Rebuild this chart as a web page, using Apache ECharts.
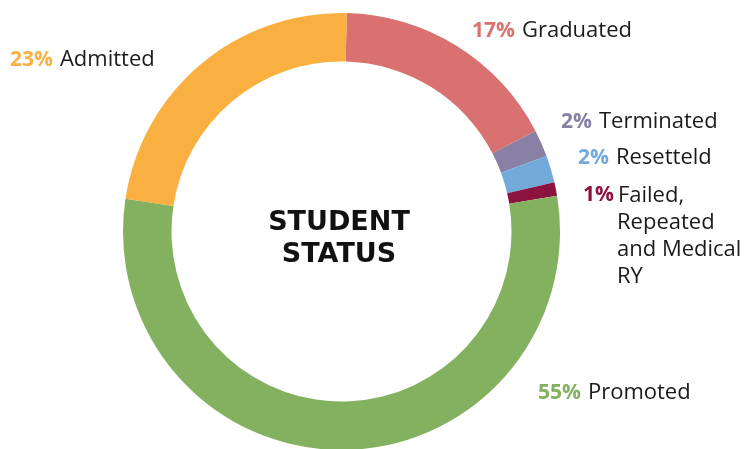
<!DOCTYPE html>
<html>
<head>
<meta charset="utf-8">
<script src="https://cdn.jsdelivr.net/npm/echarts@6/dist/echarts.min.js"></script>
<style>
html,body{margin:0;padding:0;background:#fff;}
#chart{width:749px;height:449px;}
</style>
</head>
<body>
<div id="chart"></div>
<script>
const categories = ['Graduated', 'Terminated', 'Resetteld', 'Failed, Repeated and Medical RY', 'Promoted', 'Admitted'];
const values = [17, 2, 2, 1, 55, 23];
const colors = ['#D97170', '#8880A5', '#72AADB', '#8C1240', '#83B160', '#F9B040'];

// label anchor positions (left x, y, vertical align)
const labelPos = [
  [472, 31, 'middle'],
  [561, 122, 'middle'],
  [578, 158, 'middle'],
  [583, 182, 'top'],
  [538, 393, 'middle'],
  [10, 60, 'middle']
];

const FONT = 'Open Sans';
const chart = echarts.init(document.getElementById('chart'));

function labelText(params) {
  const i = params.dataIndex;
  const pct = '{p' + i + '|' + values[i] + '%}';
  if (i === 3) {
    return pct + '{n3|Failed,}\n{ind|Repeated}\n{ind|and Medical}\n{ind|RY}';
  }
  return pct + '{n|' + categories[i] + '}';
}

const rich = {
  n: { fontFamily: FONT, fontSize: 22, color: '#1b1b1b', lineHeight: 27, padding: [0, 0, 0, 7] },
  n3: { fontFamily: FONT, fontSize: 22, color: '#1b1b1b', lineHeight: 27, padding: [0, 0, 0, 4] },
  ind: { fontFamily: FONT, fontSize: 22, color: '#1b1b1b', lineHeight: 27, padding: [0, 0, 0, 34] }
};
colors.forEach((c, i) => {
  rich['p' + i] = { fontFamily: FONT, fontSize: 21, fontWeight: 'bold', color: c, lineHeight: 27 };
});

chart.setOption({
  animation: false,
  backgroundColor: '#fff',
  title: {
    text: 'STUDENT\nSTATUS',
    left: 334,
    top: 202,
    textAlign: 'center',
    textStyle: { fontFamily: 'DejaVu Sans', fontSize: 27, fontWeight: 'bold', color: '#111', lineHeight: 32 }
  },
  series: [{
    type: 'pie',
    center: [341.5, 231.5],
    radius: [170, 218.5],
    startAngle: 88.6,
    clockwise: true,
    silent: true,
    data: categories.map((c, i) => ({ name: c, value: values[i], itemStyle: { color: colors[i] } })),
    label: {
      show: true,
      position: 'outside',
      formatter: labelText,
      rich: rich,
      align: 'left'
    },
    labelLine: { show: false },
    labelLayout: function (params) {
      const p = labelPos[params.dataIndex];
      return { x: p[0], y: p[1], align: 'left', verticalAlign: p[2] };
    }
  }]
});
</script>
</body>
</html>
